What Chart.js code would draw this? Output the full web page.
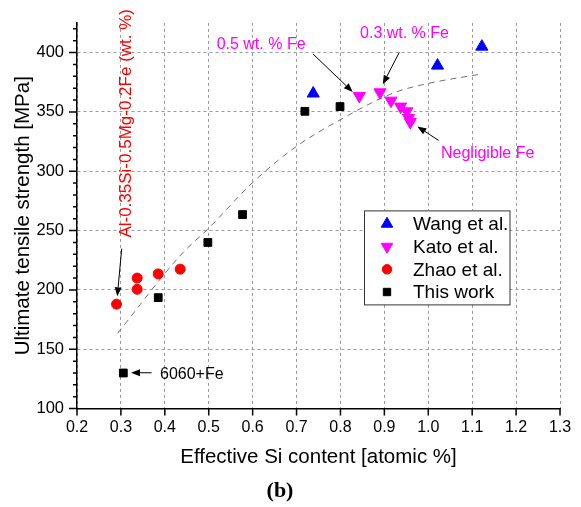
<!DOCTYPE html>
<html><head><meta charset="utf-8">
<script src="https://cdn.jsdelivr.net/npm/chart.js@4.4.1/dist/chart.umd.min.js"></script>
<style>html,body{margin:0;padding:0;background:#fff;}</style>
</head><body>
<canvas id="c" width="581" height="507"></canvas>
<script>
// ---- data ----
const wangSi = [0.738, 1.021, 1.122];
const wangUTS = [365.5, 389, 405];
const katoSi = [0.843, 0.890, 0.915, 0.937, 0.951, 0.955, 0.959];
const katoUTS = [363.5, 366.5, 359.5, 354.5, 350.5, 345, 341.5];
const zhaoSi = [0.290, 0.337, 0.337, 0.385, 0.435];
const zhaoUTS = [188, 210, 200.5, 213.5, 217.5];
const thisSi = [0.3055, 0.385, 0.498, 0.577, 0.719, 0.799];
const thisUTS = [130, 193.5, 240, 263.5, 350.5, 354.5];
const fitSi = [0.2925, 0.4364, 0.5, 0.6, 0.7, 0.8, 0.921, 1.0, 1.114];
const fitUTS = [163.5, 229.5, 252, 290.5, 321, 343.5, 366, 374, 381.5];
const seriesNames = ['Wang et al.', 'Kato et al.', 'Zhao et al.', 'This work'];
const xTitle = 'Effective Si content [atomic %]';
const yTitle = 'Ultimate tensile strength [MPa]';

// annotations (data coordinates)
const noteText = ['0.5 wt. % Fe', '0.3 wt. % Fe', 'Negligible Fe', '6060+Fe', 'Al-0.35Si-0.5Mg-0.2Fe (wt. %)'];
const noteX = [0.518, 0.8446, 1.029, 0.389, 0.3116];
const noteY = [407, 416, 315, 128.75, 340.4];
const noteColor = ['#ff00ff', '#ff00ff', '#ff00ff', '#000000', '#ff0000'];
const noteRot = [0, 0, 0, 0, -90];
const arrowFromX = [0.7376, 0.934, 1.0235, 0.370, 0.3018];
const arrowFromY = [398.75, 400.2, 326, 130.2, 234.8];
const arrowToX = [0.828, 0.8964, 0.9752, 0.323, 0.2918];
const arrowToY = [366.8, 373.2, 337.7, 130.2, 194.6];

const pts = (xs, ys) => xs.map((x, i) => ({x: x, y: ys[i]}));
const FONT = '"Liberation Sans", Arial, sans-serif';

const ticksPlugin = {
  id: 'originTicks',
  afterDraw(chart) {
    const ctx = chart.ctx, xs = chart.scales.x, ys = chart.scales.y;
    ctx.save();
    ctx.strokeStyle = '#000'; ctx.lineWidth = 1.5;
    ctx.beginPath();
    xs.ticks.forEach(t => {
      const p = xs.getPixelForValue(t.value);
      ctx.moveTo(p, xs.top); ctx.lineTo(p, xs.top + 7);
    });
    ys.ticks.forEach(t => {
      const p = ys.getPixelForValue(t.value);
      const len = (Math.round(t.value) % 50 === 0) ? 8 : 4;
      ctx.moveTo(ys.right, p); ctx.lineTo(ys.right - len, p);
    });
    ctx.stroke();
    ctx.restore();
  }
};

const notesPlugin = {
  id: 'notes',
  afterDraw(chart) {
    const ctx = chart.ctx, xs = chart.scales.x, ys = chart.scales.y;
    ctx.save();
    noteText.forEach((t, i) => {
      const px = xs.getPixelForValue(noteX[i]), py = ys.getPixelForValue(noteY[i]);
      ctx.fillStyle = noteColor[i];
      ctx.textBaseline = 'middle';
      if (noteRot[i]) {
        ctx.save(); ctx.translate(px, py); ctx.rotate(noteRot[i] * Math.PI / 180);
        ctx.font = '17px ' + FONT; ctx.textAlign = 'center';
        ctx.fillText(t, 0, 0); ctx.restore();
      } else {
        ctx.font = '16px ' + FONT; ctx.textAlign = 'left';
        ctx.fillText(t, px, py);
      }
    });
    ctx.strokeStyle = '#000'; ctx.fillStyle = '#000'; ctx.lineWidth = 1;
    arrowFromX.forEach((fx, i) => {
      const x1 = xs.getPixelForValue(fx), y1 = ys.getPixelForValue(arrowFromY[i]);
      const x2 = xs.getPixelForValue(arrowToX[i]), y2 = ys.getPixelForValue(arrowToY[i]);
      const a = Math.atan2(y2 - y1, x2 - x1), L = 9, W = 3.5;
      const bx = x2 - L * Math.cos(a), by = y2 - L * Math.sin(a);
      ctx.beginPath(); ctx.moveTo(x1, y1); ctx.lineTo(bx, by); ctx.stroke();
      ctx.beginPath(); ctx.moveTo(x2, y2);
      ctx.lineTo(bx + W * Math.sin(a), by - W * Math.cos(a));
      ctx.lineTo(bx - W * Math.sin(a), by + W * Math.cos(a));
      ctx.closePath(); ctx.fill();
    });
    ctx.restore();
  }
};

const legendPlugin = {
  id: 'boxLegend',
  afterDraw(chart) {
    const ctx = chart.ctx, ca = chart.chartArea;
    const left = ca.right - 196, top = ca.top + 187.5, w = 145.5, h = 94;
    ctx.save();
    ctx.fillStyle = '#fff'; ctx.fillRect(left, top, w, h);
    ctx.strokeStyle = '#333'; ctx.lineWidth = 1; ctx.strokeRect(left + 0.5, top + 0.5, w, h);
    const items = chart.data.datasets.filter(d => !d.noLegend);
    ctx.font = '19px ' + FONT; ctx.textBaseline = 'middle'; ctx.textAlign = 'left';
    items.forEach((d, i) => {
      const y = top + 13.5 + i * 22.7;
      ctx.fillStyle = d.backgroundColor; ctx.strokeStyle = d.borderColor; ctx.lineWidth = 1;
      Chart.helpers.drawPoint(ctx, {pointStyle: d.pointStyle, rotation: d.rotation || 0, radius: d.pointRadius * 0.95, borderWidth: 1}, left + 23, y);
      ctx.fillStyle = '#000';
      ctx.fillText(d.label, left + 49, y + 1);
    });
    ctx.restore();
  }
};

new Chart(document.getElementById('c'), {
  type: 'scatter',
  data: {
    datasets: [
      {label: seriesNames[0], data: pts(wangSi, wangUTS), pointStyle: 'triangle', pointRadius: 7,
       backgroundColor: '#0000ff', borderColor: '#0000ff', borderWidth: 1, order: 1},
      {label: seriesNames[1], data: pts(katoSi, katoUTS), pointStyle: 'triangle', rotation: 180, pointRotation: 180, pointRadius: 7,
       backgroundColor: '#ff00ff', borderColor: '#ff00ff', borderWidth: 1, order: 1},
      {label: seriesNames[2], data: pts(zhaoSi, zhaoUTS), pointStyle: 'circle', pointRadius: 5,
       backgroundColor: '#ff0000', borderColor: '#ff0000', borderWidth: 1, order: 1},
      {label: seriesNames[3], data: pts(thisSi, thisUTS), pointStyle: 'rect', pointRadius: 5.5,
       backgroundColor: '#000000', borderColor: '#000000', borderWidth: 1, order: 1},
      {label: 'fit', type: 'line', noLegend: true, data: pts(fitSi, fitUTS), showLine: true, pointRadius: 0,
       borderColor: '#707070', borderWidth: 1, borderDash: [6, 5], cubicInterpolationMode: 'monotone', fill: false, order: 5}
    ]
  },
  options: {
    responsive: false, animation: false, devicePixelRatio: 1,
    layout: {padding: {top: 18.5, right: 21, bottom: 0, left: 0}},
    plugins: {
      legend: {display: false}, tooltip: {enabled: false},
      title: {display: true, text: '(b)', position: 'bottom', color: '#000',
        font: {family: '"Liberation Serif", "Times New Roman", serif', size: 22, weight: 'bold', lineHeight: 1.2},
        padding: {top: 0, bottom: 2}}
    },
    scales: {
      x: {
        type: 'linear', min: 0.2, max: 1.3,
        afterFit(s) { s.height = 70; },
        ticks: {stepSize: 0.1, autoSkip: false, color: '#000', padding: 9,
          font: {family: FONT, size: 16}, callback: v => v.toFixed(1)},
        grid: {color: '#9a9a9a', lineWidth: 1, drawTicks: false},
        border: {display: true, color: '#000', width: 1.5, dash: [3, 3]},
        title: {display: true, text: xTitle, color: '#000',
          font: {family: FONT, size: 20.5}, padding: {top: 0, bottom: 8.5}}
      },
      y: {
        type: 'linear', min: 100, max: 425,
        afterFit(s) { s.width = 77; },
        ticks: {stepSize: 10, autoSkip: false, includeBounds: false, color: '#000', padding: 13,
          font: {family: FONT, size: 16.5}, callback: v => (Math.round(v) % 50 === 0 ? String(v) : '')},
        grid: {color: c => (c.tick && Math.round(c.tick.value) % 50 === 0 ? '#9a9a9a' : 'rgba(0,0,0,0)'), lineWidth: 1, drawTicks: false},
        border: {display: true, color: '#000', width: 1.5, dash: [3, 3]},
        title: {display: true, text: yTitle, color: '#000',
          font: {family: FONT, size: 20.5}, padding: {top: 10.7, bottom: 0}}
      }
    }
  },
  plugins: [ticksPlugin, notesPlugin, legendPlugin]
});
</script>
</body></html>
